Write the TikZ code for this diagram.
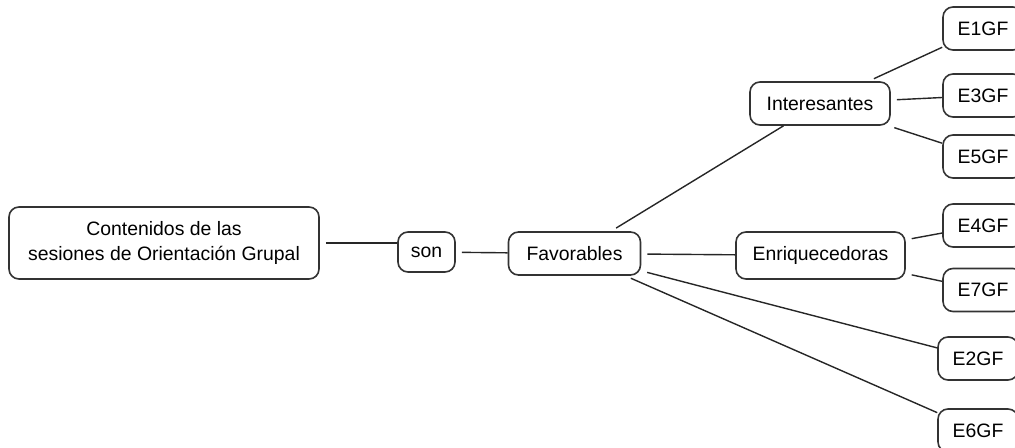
\documentclass[tikz,border=0pt]{standalone}
\usepackage{fontspec}
\setmainfont{Liberation Sans}
\usepackage{tikz}
\tikzset{
    concept-box/.style = {draw=black!80, fill=white, line width=0.8pt, rectangle, rounded corners=5pt, inner sep=0pt, align=center, font=\fontsize{9.7}{12.5}\selectfont},
    leaf-box/.style = {concept-box, minimum width=40pt, minimum height=21.5pt},
    link-line/.style = {draw=black!85, line width=0.7pt, shorten <=3pt},
}

\begin{document}
\begin{tikzpicture}[x=0.5pt, y=-0.5pt]
\useasboundingbox (0,0) rectangle (1015,448);
\clip (0,0) rectangle (1015,448);
\node[concept-box, minimum width=155pt, minimum height=36pt] (contenidos) at (164,243) {Contenidos de las\\sesiones de Orientación Grupal};
\node[concept-box, minimum width=28.5pt, minimum height=20pt] (son) at (426.5,252) {son};
\node[concept-box, minimum width=66pt, minimum height=21.5pt] (favorables) at (574.5,253.5) {Favorables};
\node[concept-box, minimum width=70pt, minimum height=21.5pt] (interesantes) at (820,103.5) {Interesantes};
\node[concept-box, minimum width=84.5pt, minimum height=23.5pt] (enriquecedoras) at (820.5,255.5) {Enriquecedoras};
\node[leaf-box] (e1gf) at (983,28.5) {E1GF};
\node[leaf-box] (e3gf) at (983,95.5) {E3GF};
\node[leaf-box] (e5gf) at (983,156.5) {E5GF};
\node[leaf-box] (e4gf) at (983,225.5) {E4GF};
\node[leaf-box] (e7gf) at (983,290) {E7GF};
\node[leaf-box] (e2gf) at (978,358.5) {E2GF};
\node[leaf-box] (e6gf) at (978,430.5) {E6GF};

\draw[link-line] (contenidos) -- (son.west |- contenidos);
\draw[link-line] (son) -- (favorables);
\draw[link-line] (favorables) -- (interesantes);
\draw[link-line] (favorables) -- (enriquecedoras);
\draw[link-line] (favorables) -- (e2gf);
\draw[link-line] (favorables) -- (e6gf);
\draw[link-line] (interesantes) -- (e1gf);
\draw[link-line] (interesantes) -- (e3gf);
\draw[link-line] (interesantes) -- (e5gf);
\draw[link-line] (enriquecedoras) -- (e4gf);
\draw[link-line] (enriquecedoras) -- (e7gf);
\end{tikzpicture}
\end{document}
